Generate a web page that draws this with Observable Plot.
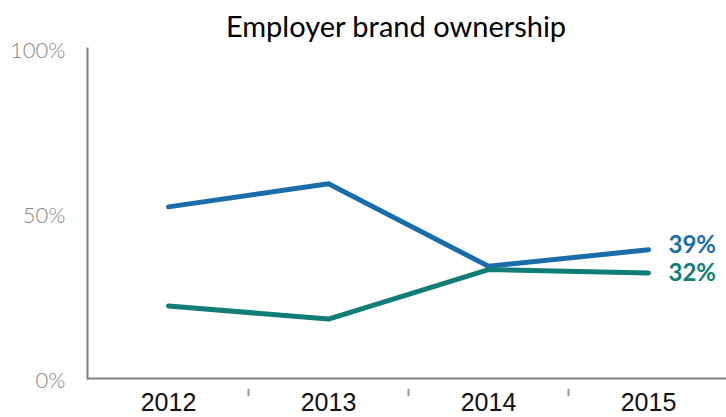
<!DOCTYPE html>
<html><head><meta charset="utf-8">
<script src="https://cdn.jsdelivr.net/npm/d3@7"></script>
<script src="https://cdn.jsdelivr.net/npm/@observablehq/plot@0.6"></script>
<style>body{margin:0;background:#fff}svg{display:block}</style>
</head><body><div id="chart"></div>
<script>
const years = ["2012", "2013", "2014", "2015"];
const seriesNames = ["A", "B"];
const blueValues = [0.52, 0.59, 0.34, 0.39];
const greenValues = [0.22, 0.18, 0.33, 0.32];
const yTicks = [0, 0.5, 1];
const title = "Employer brand ownership";
const colors = {A: "#1a6dab", B: "#117d77"};

const data = [
  ...years.map((y, i) => ({year: y, value: blueValues[i], series: "A"})),
  ...years.map((y, i) => ({year: y, value: greenValues[i], series: "B"}))
];
const last = data.filter(d => d.year === years[years.length - 1]);
const pct = d3.format(".0%");

const chart = Plot.plot({
  width: 726, height: 417,
  marginTop: 48, marginBottom: 39, marginLeft: 87, marginRight: 0,
  style: {fontFamily: "Lato, sans-serif", background: "#fff", overflow: "visible"},
  x: {type: "band", domain: years, range: [87, 729], padding: 0, label: null},
  y: {domain: [0, 1], range: [378, 48], label: null},
  color: {domain: seriesNames, range: [colors.A, colors.B]},
  marks: [
    Plot.axisY({ticks: yTicks, tickFormat: pct, tickSize: 0, tickPadding: 22, dy: 2,
      fontSize: 22, fill: "#858585", fontWeight: 300, label: null}),
    Plot.axisX({tickSize: 0, tickPadding: 15, fontSize: 25, fill: "#111", label: null,
      fontFamily: "Liberation Sans, Arial, sans-serif"}),
    Plot.ruleY([0], {stroke: "#808080", strokeWidth: 2}),
    Plot.frame({anchor: "left", stroke: "#808080", strokeWidth: 2}),
    Plot.ruleX(years.slice(1), {x: d => d, dx: -80, y1: 0, y2: 0.022, dy: 18, stroke: "#999", strokeWidth: 2}),
    Plot.line(data, {x: "year", y: "value", z: "series", stroke: "series", strokeWidth: 5, strokeLinecap: "round", strokeLinejoin: "round"}),
    Plot.text(last.filter(d => d.series === "A"), {x: "year", y: "value", text: d => pct(d.value), fill: "series",
      textAnchor: "start", dx: 20, dy: -4, fontSize: 24, fontWeight: "bold"}),
    Plot.text(last.filter(d => d.series === "B"), {x: "year", y: "value", text: d => pct(d.value), fill: "series",
      textAnchor: "start", dx: 20, dy: 0, fontSize: 24, fontWeight: "bold"}),
    Plot.text([title], {frameAnchor: "top", dx: -11, dy: -12, lineAnchor: "bottom", fontSize: 29, fill: "#000"})
  ]
});
document.getElementById("chart").append(chart);
</script></body></html>
